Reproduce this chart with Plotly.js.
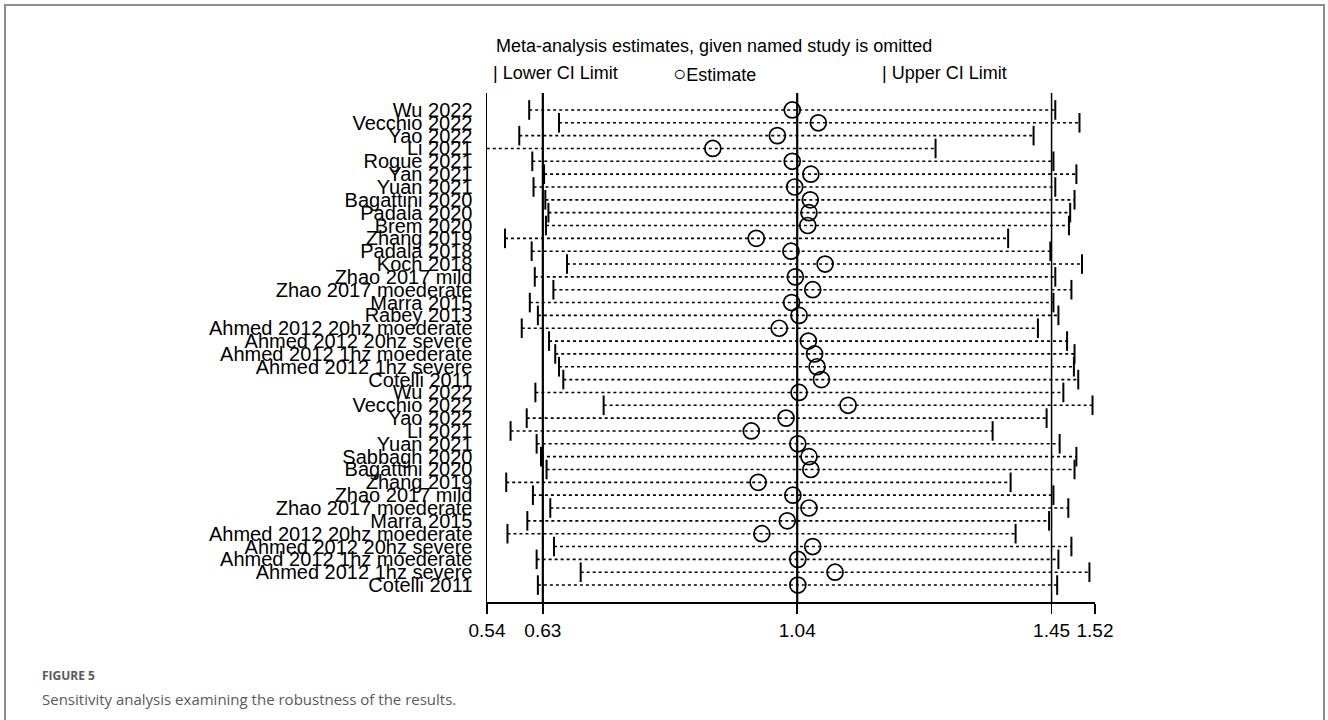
<!DOCTYPE html>
<html>
<head>
<meta charset="utf-8">
<script src="https://cdn.plot.ly/plotly-3.0.1.min.js"></script>
<style>
  html, body { margin: 0; padding: 0; background: #ffffff; }
  #frame { position: absolute; left: 4px; top: 4px; width: 1321px; height: 740px; border: 2px solid #8c8c8c; box-sizing: border-box; }
  #chart { position: absolute; left: 0; top: 0; width: 1328px; height: 720px; }
</style>
</head>
<body>
<div id="frame"></div>
<div id="chart"></div>
<script>
// Study labels (top to bottom)
const studies = [
  "Wu 2022", "Vecchio 2022", "Yao 2022", "Li 2021", "Rogue 2021", "Yan 2021", "Yuan 2021",
  "Bagattini 2020", "Padala 2020", "Brem 2020", "Zhang 2019", "Padala 2018", "Koch 2018",
  "Zhao 2017 mild", "Zhao 2017 moederate", "Marra 2015", "Rabey 2013",
  "Ahmed 2012 20hz moederate", "Ahmed 2012 20hz severe", "Ahmed 2012 1hz moederate",
  "Ahmed 2012 1hz severe", "Cotelli 2011",
  "Wu 2022", "Vecchio 2022", "Yao 2022", "Li 2021", "Yuan 2021", "Sabbagh 2020",
  "Bagattini 2020", "Zhang 2019", "Zhao 2017 mild", "Zhao 2017 moederate", "Marra 2015",
  "Ahmed 2012 20hz moederate", "Ahmed 2012 20hz severe", "Ahmed 2012 1hz moederate",
  "Ahmed 2012 1hz severe", "Cotelli 2011"
];
// Estimates with the named study omitted
const estimate = [
  1.032, 1.074, 1.008, 0.904, 1.032, 1.062, 1.036,
  1.061, 1.059, 1.057, 0.974, 1.030, 1.085,
  1.037, 1.065, 1.031, 1.043,
  1.011, 1.058, 1.068, 1.072, 1.079,
  1.043, 1.122, 1.022, 0.966, 1.041, 1.059,
  1.062, 0.977, 1.033, 1.059, 1.024,
  0.983, 1.065, 1.041, 1.101, 1.041
];
const lowerCI = [
  0.608, 0.656, 0.592, 0.530, 0.613, 0.632, 0.615,
  0.634, 0.639, 0.635, 0.569, 0.612, 0.669,
  0.617, 0.647, 0.609, 0.622,
  0.596, 0.640, 0.650, 0.656, 0.663,
  0.618, 0.728, 0.604, 0.578, 0.620, 0.627,
  0.636, 0.571, 0.614, 0.642, 0.605,
  0.573, 0.648, 0.620, 0.691, 0.622
];
const upperCI = [
  1.456, 1.495, 1.421, 1.263, 1.453, 1.490, 1.456,
  1.487, 1.480, 1.478, 1.380, 1.448, 1.499,
  1.456, 1.482, 1.453, 1.461,
  1.428, 1.475, 1.487, 1.486, 1.493,
  1.469, 1.516, 1.442, 1.355, 1.463, 1.490,
  1.487, 1.384, 1.453, 1.477, 1.446,
  1.392, 1.482, 1.461, 1.511, 1.459
];
const xTickVals = [0.54, 0.63, 1.04, 1.45, 1.52];
const xTickText = ["0.54", "0.63", "1.04", "1.45", "1.52"];
const refLines = [0.63, 1.04, 1.45];

const rows = studies.map((s, i) => i + 1);

// dotted CI lines
const lx = [], ly = [];
rows.forEach((r, i) => { lx.push(lowerCI[i], upperCI[i], null); ly.push(r, r, null); });

const traces = [
  { type: 'scatter', mode: 'lines', x: lx, y: ly, hoverinfo: 'skip',
    line: { color: '#000', width: 1.6, dash: 'dot' }, showlegend: false },
  { type: 'scatter', mode: 'markers', x: lowerCI, y: rows,
    marker: { symbol: 'line-ns', size: 14, line: { color: '#000', width: 2 } }, showlegend: false },
  { type: 'scatter', mode: 'markers', x: upperCI, y: rows,
    marker: { symbol: 'line-ns', size: 14, line: { color: '#000', width: 2 } }, showlegend: false },
  { type: 'scatter', mode: 'markers', x: estimate, y: rows,
    marker: { symbol: 'circle-open', size: 16, color: '#000', line: { color: '#000', width: 1.7 } }, showlegend: false }
];

const shapes = refLines.map((v, i) => ({
  type: 'line', xref: 'x', yref: 'paper', x0: v, x1: v, y0: 0, y1: 1,
  line: { color: '#000', width: i === 2 ? 1.5 : 2.2 }
}));

const annFont = { family: 'Liberation Sans, Arial, sans-serif', size: 18, color: '#000' };
const annotations = [
  { xref: 'paper', yref: 'paper', x: 0.011, y: 1.092, xanchor: 'left', yanchor: 'middle',
    text: 'Meta-analysis estimates, given named study is omitted', showarrow: false, font: annFont },
  { xref: 'paper', yref: 'paper', x: 0.006, y: 1.039, xanchor: 'left', yanchor: 'middle',
    text: '| Lower CI Limit', showarrow: false, font: annFont },
  { xref: 'paper', yref: 'paper', x: 0.303, y: 1.039, xanchor: 'left', yanchor: 'middle',
    text: '<span style="font-size:22px">○</span>Estimate', showarrow: false, font: annFont },
  { xref: 'paper', yref: 'paper', x: 0.646, y: 1.039, xanchor: 'left', yanchor: 'middle',
    text: '| Upper CI Limit', showarrow: false, font: annFont },
  { xref: 'paper', yref: 'paper', x: -0.736, y: -0.145, xanchor: 'left', yanchor: 'middle',
    text: '<b>FIGURE 5</b>', showarrow: false,
    font: { family: 'Open Sans, sans-serif', size: 12, color: '#5a5a5a' } },
  { xref: 'paper', yref: 'paper', x: -0.736, y: -0.190, xanchor: 'left', yanchor: 'middle',
    text: 'Sensitivity analysis examining the robustness of the results.', showarrow: false,
    font: { family: 'Open Sans, sans-serif', size: 15, color: '#5a5a5a' } }
];

const layout = {
  width: 1328, height: 720,
  margin: { l: 487, r: 233, t: 93, b: 118 },
  paper_bgcolor: 'rgba(0,0,0,0)', plot_bgcolor: 'rgba(0,0,0,0)',
  showlegend: false,
  xaxis: {
    range: [0.54, 1.52], tickvals: xTickVals, ticktext: xTickText,
    showgrid: false, zeroline: false, showline: true, linecolor: '#000', linewidth: 2,
    ticks: 'outside', ticklen: 10, tickwidth: 1.5, tickcolor: '#000',
    tickfont: { family: 'Liberation Sans, Arial, sans-serif', size: 19, color: '#000' }
  },
  yaxis: {
    range: [39.32, -0.32], tickvals: rows, ticktext: studies,
    showgrid: false, zeroline: false, showline: true, linecolor: '#000', linewidth: 1.5,
    ticks: '', ticklabelstandoff: 9,
    tickfont: { family: 'Liberation Sans, Arial, sans-serif', size: 20, color: '#000' }
  },
  shapes: shapes,
  annotations: annotations
};

Plotly.newPlot('chart', traces, layout, { displayModeBar: false, staticPlot: true });
</script>
</body>
</html>
